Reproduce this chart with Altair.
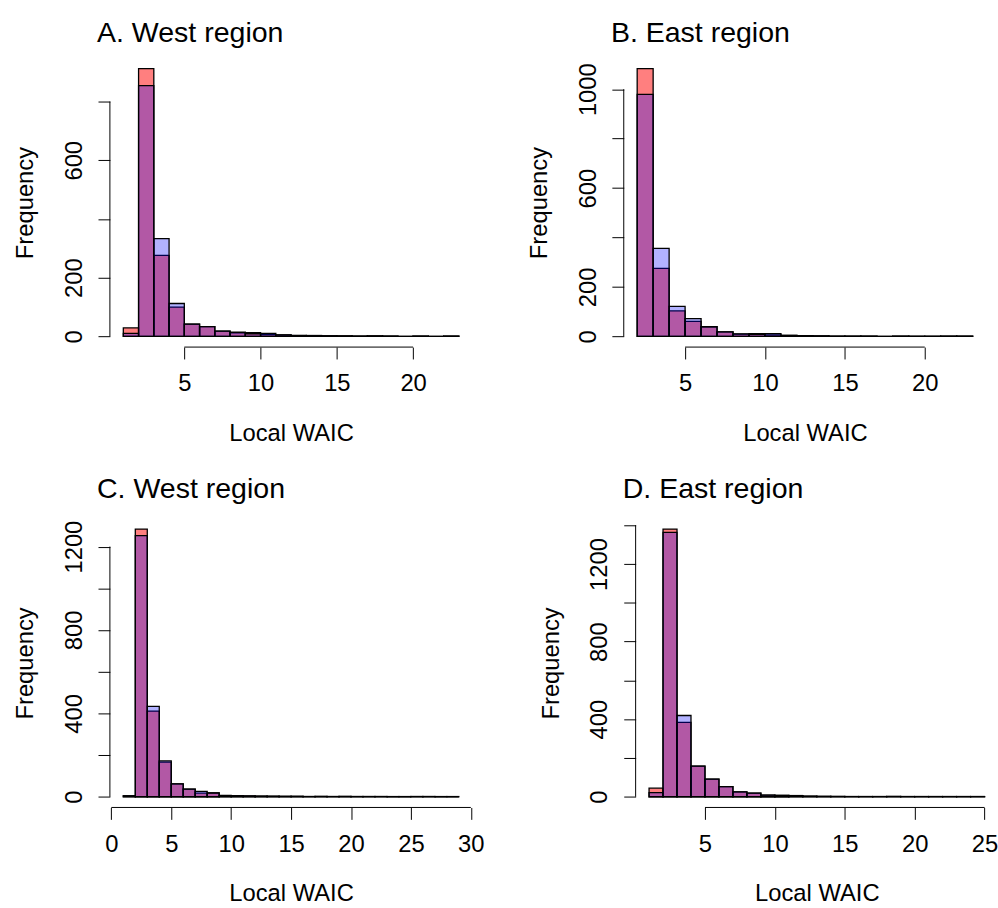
import altair as alt
import pandas as pd

FONT = "Liberation Sans"
W, H = 366, 292

# ---------------- data ----------------
A_title = "A. West region"
A_breaks = list(range(1, 24))
A_red = [29, 912, 276, 100, 42, 33, 18, 12, 13, 6, 5, 3, 3, 2, 2, 1, 2, 1, 0, 1, 0, 1]
A_blue = [10, 854, 333, 112, 42, 33, 18, 14, 9, 10, 5, 3, 2, 2, 1, 1, 1, 1, 0, 1, 0, 1]
A_xticks = [5, 10, 15, 20]
A_yticks = [0, 200, 400, 600, 800]
A_ylabels = [0, 200, 600]

B_title = "B. East region"
B_breaks = list(range(2, 24))
B_red = [1083, 275, 103, 61, 39, 18, 9, 11, 6, 4, 3, 2, 1, 1, 1, 0, 1, 0, 1, 1, 1]
B_blue = [979, 356, 121, 72, 39, 18, 10, 8, 11, 4, 3, 2, 1, 1, 1, 0, 1, 1, 0, 1, 1]
B_xticks = [5, 10, 15, 20]
B_yticks = [0, 200, 400, 600, 800, 1000]
B_ylabels = [0, 200, 600, 1000]

C_title = "C. West region"
C_breaks = list(range(1, 30))
C_red = [4, 1284, 411, 166, 62, 37, 17, 19, 6, 5, 4, 3, 3, 2, 2, 1, 2, 1, 1, 1, 1, 1, 0, 1, 1, 1, 0, 1]
C_blue = [5, 1253, 434, 172, 62, 37, 26, 18, 6, 5, 4, 3, 2, 2, 2, 1, 1, 1, 2, 1, 1, 1, 1, 0, 1, 1, 1, 0]
C_xticks = [0, 5, 10, 15, 20, 25, 30]
C_yticks = [0, 200, 400, 600, 800, 1000, 1200]
C_ylabels = [0, 400, 800, 1200]

D_title = "D. East region"
D_breaks = list(range(1, 26))
D_red = [44, 1380, 384, 158, 91, 52, 25, 19, 8, 7, 6, 3, 2, 2, 1, 1, 1, 1, 1, 1, 1, 1, 1, 1]
D_blue = [21, 1363, 419, 158, 91, 52, 25, 19, 8, 7, 6, 3, 2, 1, 1, 1, 1, 2, 1, 1, 1, 1, 1, 1]
D_xticks = [5, 10, 15, 20, 25]
D_yticks = [0, 200, 400, 600, 800, 1000, 1200, 1400]
D_ylabels = [0, 400, 800, 1200]

SERIES = ["red", "blue"]
FILLS = ["#ff0000", "#0000ff"]
ALPHAS = [0.5, 0.3]


def panel(title, breaks, red, blue, xticks, yticks, ylabels, title_gap):
    n = len(red)
    df = pd.DataFrame({
        "lo": breaks[:-1] + breaks[:-1],
        "hi": breaks[1:] + breaks[1:],
        "count": red + blue,
        "zero": [0] * (2 * n),
        "grp": [SERIES[0]] * n + [SERIES[1]] * n,
    })
    span = breaks[-1] - breaks[0]
    xs = alt.Scale(domain=[breaks[0] - 0.04 * span, breaks[-1] + 0.04 * span], nice=False, zero=False)
    ymax = max(red + blue)
    ys = alt.Scale(domain=[-0.04 * ymax, 1.04 * ymax], nice=False, zero=False)
    lab = ",".join(str(v) for v in ylabels)

    xaxis = alt.Axis(
        values=xticks, domain=False, grid=False, ticks=True, tickSize=12,
        tickColor="black", tickWidth=1, labelFont=FONT, labelFontSize=24,
        labelColor="black", labelPadding=13, labelFlush=False, labelOverlap=False,
        format="d",
        title="Local WAIC", titleFont=FONT, titleFontSize=24, titleFontWeight="normal",
        titleColor="black", titleX=W / 2, titleY=94, titleAlign="center",
        titleBaseline="alphabetic",
    )
    yaxis = alt.Axis(
        values=yticks, domain=False, grid=False, ticks=True, tickSize=12,
        tickColor="black", tickWidth=1, labelFont=FONT, labelFontSize=24,
        labelColor="black", labelAngle=270, labelAlign="center",
        labelBaseline="alphabetic", labelPadding=17, labelFlush=False,
        labelOverlap=False, format="d",
        labelExpr=f"indexof([{lab}], datum.value) >= 0 ? datum.label : ''",
        title="Frequency", titleFont=FONT, titleFontSize=24, titleFontWeight="normal",
        titleColor="black", titleAngle=270, titleX=-78, titleY=H / 2,
        titleAlign="center", titleBaseline="alphabetic",
    )

    bars = alt.Chart(df).mark_rect(stroke="black", strokeWidth=1.3).encode(
        x=alt.X("lo:Q", scale=xs, axis=xaxis),
        x2="hi:Q",
        y=alt.Y("count:Q", scale=ys, axis=yaxis),
        y2="zero:Q",
        fill=alt.Fill("grp:N", scale=alt.Scale(domain=SERIES, range=FILLS), legend=None),
        fillOpacity=alt.FillOpacity("grp:N", scale=alt.Scale(domain=SERIES, range=ALPHAS), legend=None),
    )

    xl = pd.DataFrame({"a": [xticks[0]], "b": [xticks[-1]]})
    xline = alt.Chart(xl).mark_rule(color="black", strokeWidth=1).encode(
        x=alt.X("a:Q", scale=xs, axis=xaxis), x2="b:Q", y=alt.value(H)
    )
    yl = pd.DataFrame({"a": [yticks[0]], "b": [yticks[-1]]})
    yline = alt.Chart(yl).mark_rule(color="black", strokeWidth=1).encode(
        y=alt.Y("a:Q", scale=ys, axis=yaxis), y2="b:Q", x=alt.value(0)
    )

    ttl = alt.Chart(pd.DataFrame({"t": [title]})).mark_text(
        align="left", baseline="alphabetic", font=FONT, fontSize=28.8, color="black"
    ).encode(text="t:N", x=alt.value(-13), y=alt.value(-title_gap))

    return alt.layer(bars, xline, yline, ttl).properties(width=W, height=H)


pA = panel(A_title, A_breaks, A_red, A_blue, A_xticks, A_yticks, A_ylabels, 16)
pB = panel(B_title, B_breaks, B_red, B_blue, B_xticks, B_yticks, B_ylabels, 16)
pC = panel(C_title, C_breaks, C_red, C_blue, C_xticks, C_yticks, C_ylabels, 21)
pD = panel(D_title, D_breaks, D_red, D_blue, D_xticks, D_yticks, D_ylabels, 21)

chart = alt.vconcat(
    alt.hconcat(pA, pB, spacing=56),
    alt.hconcat(pC, pD, spacing=56),
    spacing=30,
).properties(
    padding={"left": 14, "top": 15, "right": 0, "bottom": 0},
    background="white",
).configure_view(stroke=None)

chart.save("out.html", embed_options={"renderer": "svg", "actions": False})
